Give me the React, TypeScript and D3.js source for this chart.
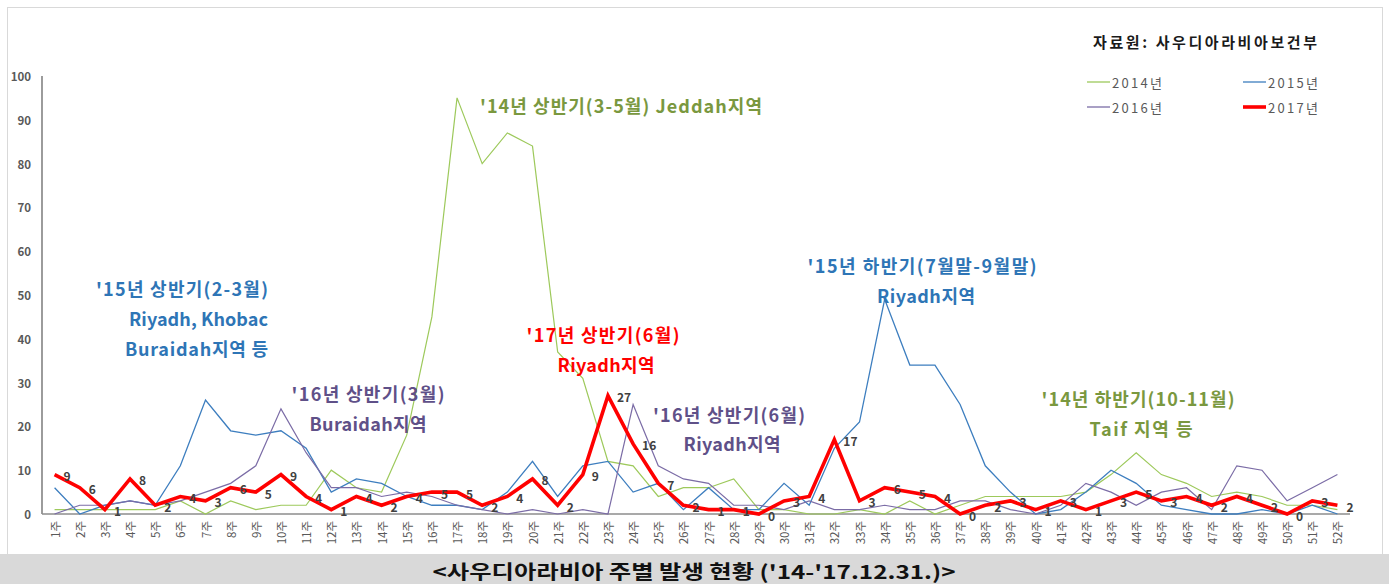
import React from "react";
import * as d3 from "d3";

const weeks = ["1주","2주","3주","4주","5주","6주","7주","8주","9주","10주","11주","12주","13주","14주","15주","16주","17주","18주","19주","20주","21주","22주","23주","24주","25주","26주","27주","28주","29주","30주","31주","32주","33주","34주","35주","36주","37주","38주","39주","40주","41주","42주","43주","44주","45주","46주","47주","48주","49주","50주","51주","52주"];

const s2014 = [1,1,1,1,1,3,0,3,1,2, 2,10,6,5,18,45,95,80,87,84, 37,31,12,11,4,6,6,8,1,1, 0,0,1,0,3,0,2,4,4,4, 4,5,9,14,9,7,4,5,4,2, 2,1];
const s2015 = [6,0,2,3,2,11,26,19,18,19, 15,5,8,7,4,2,2,1,5,12, 4,11,12,5,7,1,6,1,1,7, 2,15,21,49,34,34,25,11,5,0, 1,5,10,7,2,1,0,0,1,0, 2,0];
const s2016 = [0,2,2,3,2,3,5,7,11,24, 14,6,6,4,5,4,2,1,0,1, 0,1,0,25,11,8,7,2,2,1, 3,1,1,2,1,1,3,3,1,0, 2,7,5,2,5,6,1,11,10,3, 6,9];
const s2017 = [9,6,1,8,2,4,3,6,5,9, 4,1,4,2,4,5,5,2,4,8, 2,9,27,16,7,2,1,1,0,3, 4,17,3,6,5,4,0,2,3,1, 3,1,3,5,3,4,2,4,2,0, 3,2];

const seriesNames = ["2014년", "2015년", "2016년", "2017년"];
const seriesColors = ["#9dc95b", "#3d7ebf", "#7b6ca6", "#ff0000"];
const seriesWidths = [1.2, 1.3, 1.2, 3.6];

const sourceText = "자료원: 사우디아라비아보건부";
const captionText = "<사우디아라비아 주별 발생 현황 ('14-'17.12.31.)>";

const BLUE = "#2e75b6";
const PURPLE = "#5f5088";
const OLIVE = "#7a983f";
const RED = "#ff0000";

// annotations: [text, x, y(center), anchor, color, width]
const annotations: [string, number, number, string, string, number][] = [
  ["'15년 상반기(2-3월)", 268, 288, "end", BLUE, 172],
  ["Riyadh, Khobac", 268, 318, "end", BLUE, 139],
  ["Buraidah지역 등", 268, 348, "end", BLUE, 143],
  ["'16년 상반기(3월)", 368, 393, "middle", PURPLE, 153],
  ["Buraidah지역", 368, 423, "middle", PURPLE, 117],
  ["'14년 상반기(3-5월) Jeddah지역", 480, 105, "start", OLIVE, 282],
  ["'17년 상반기(6월)", 603, 334, "middle", RED, 153],
  ["Riyadh지역", 606, 364, "middle", RED, 97],
  ["'16년 상반기(6월)", 729, 414, "middle", PURPLE, 152],
  ["Riyadh지역", 732, 443, "middle", PURPLE, 97],
  ["'15년 하반기(7월말-9월말)", 922, 265, "middle", BLUE, 229],
  ["Riyadh지역", 926, 295, "middle", BLUE, 98],
  ["'14년 하반기(10-11월)", 1138, 398, "middle", OLIVE, 193],
  ["Taif 지역 등", 1141, 428, "middle", OLIVE, 103],
];

const FONT = "'Noto Sans CJK KR', 'Noto Sans', sans-serif";

export default function App() {
  const W = 1389, H = 584;
  const x = d3.scalePoint<string>().domain(weeks).range([42, 1350]).padding(0.5);
  const y = d3.scaleLinear().domain([0, 100]).range([514, 76]);
  const series = [s2014, s2015, s2016, s2017];
  const line = d3.line<number>().x((_, i) => x(weeks[i]) as number).y((d) => y(d));
  const yTicks = y.ticks(10);

  const legendPos = [
    [1087, 82], [1243, 82], [1087, 107], [1243, 107],
  ];

  return (
    <div style={{ position: "absolute", left: 0, top: 0 }}>
      <svg width={W} height={H} style={{ display: "block", fontFamily: FONT }}>
        <rect x={0} y={0} width={W} height={H} fill="#ffffff" />
        <rect x={7.5} y={7.5} width={1375} height={547} fill="none" stroke="#d9d9d9" strokeWidth={1} />
        {/* axes */}
        <line x1={42} x2={42} y1={76} y2={514} stroke="#595959" strokeWidth={1.2} />
        <line x1={42} x2={1350} y1={514} y2={514} stroke="#8c8c8c" strokeWidth={1.5} />
        {yTicks.map((t) => (
          <text key={t} x={31} y={y(t)} textAnchor="end" dominantBaseline="central" fontSize={11.5} fontWeight={600} fill="#595959">
            {t}
          </text>
        ))}
        {weeks.map((w) => (
          <text key={w} transform={`translate(${x(w)},521) rotate(-90)`} textAnchor="end" dominantBaseline="central" fontSize={11.5} fill="#595959">
            {w}
          </text>
        ))}
        {/* lines */}
        {series.map((s, i) => (
          <path key={i} d={line(s) as string} fill="none" stroke={seriesColors[i]} strokeWidth={seriesWidths[i]} strokeLinejoin="miter" />
        ))}
        {/* data labels for 2017 */}
        {s2017.map((v, i) => (
          <text key={i} x={(x(weeks[i]) as number) + 9} y={y(v) + 1} dominantBaseline="central" fontSize={12} fontWeight={700} fill="#404040">
            {v}
          </text>
        ))}
        {/* annotations */}
        {annotations.map(([t, ax, ay, anchor, col, wdt], i) => (
          <text key={i} x={ax} y={ay} textAnchor={anchor as any} dominantBaseline="central" fontSize={18} fontWeight={700} fill={col} textLength={wdt}>
            {t}
          </text>
        ))}
        {/* source */}
        <text x={1093} y={41} dominantBaseline="central" fontSize={15} fontWeight={700} fill="#1a1a1a" textLength={224}>
          {sourceText}
        </text>
        {/* legend */}
        {seriesNames.map((n, i) => (
          <g key={n}>
            <line x1={legendPos[i][0]} x2={legendPos[i][0] + 23} y1={legendPos[i][1]} y2={legendPos[i][1]} stroke={seriesColors[i]} strokeWidth={seriesWidths[i] === 3.6 ? 3.6 : 1.3} />
            <text x={legendPos[i][0] + 25} y={legendPos[i][1]} dominantBaseline="central" fontSize={13} fill="#595959" textLength={50}>
              {n}
            </text>
          </g>
        ))}
        {/* caption band */}
        <rect x={0} y={554} width={W} height={30} fill="#d9d9d9" />
        <text x={694} y={570} textAnchor="middle" dominantBaseline="central" fontSize={19} fontWeight={700} fill="#111" textLength={523} lengthAdjust="spacingAndGlyphs">
          {captionText}
        </text>
      </svg>
    </div>
  );
}
